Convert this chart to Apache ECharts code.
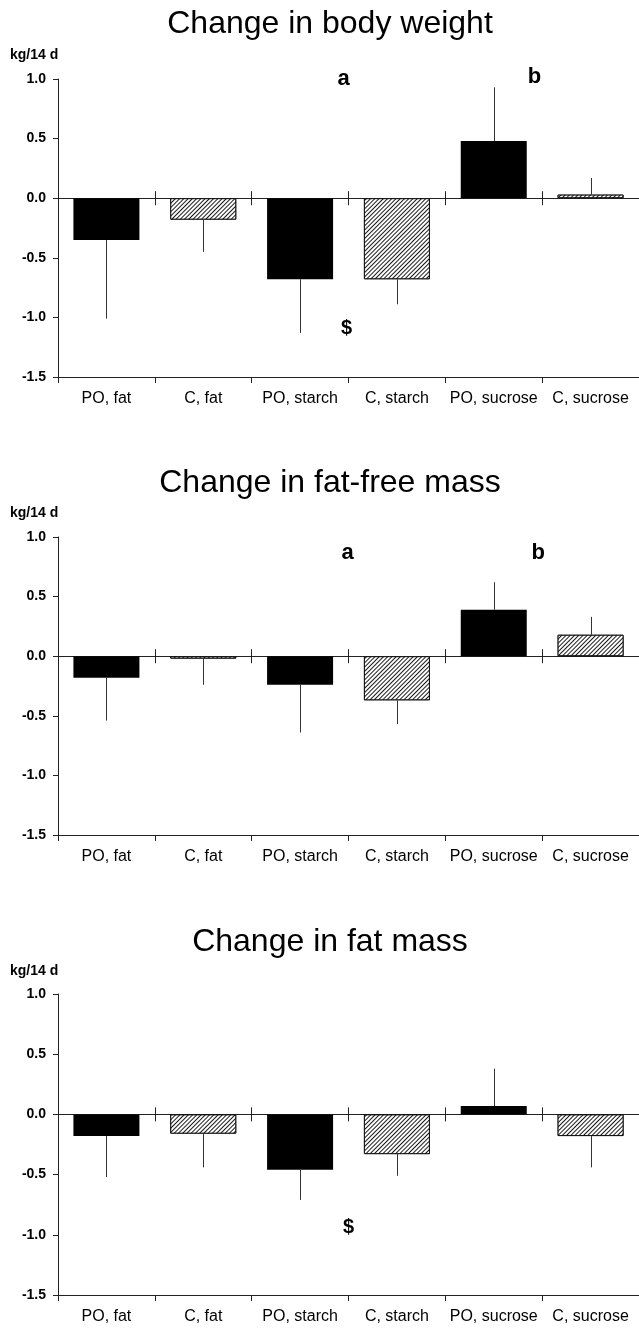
<!DOCTYPE html>
<html>
<head>
<meta charset="utf-8">
<script src="https://cdn.jsdelivr.net/npm/echarts@6/dist/echarts.min.js"></script>
<style>
html,body{margin:0;padding:0;background:#fff;}
#chart{width:639px;height:1329px;}
</style>
</head>
<body>
<div id="chart"></div>
<script>
// ---- data ----
const categories = ['PO, fat', 'C, fat', 'PO, starch', 'C, starch', 'PO, sucrose', 'C, sucrose'];
const isPO = [true, false, true, false, true, false];
const panelTitles = ['Change in body weight', 'Change in fat-free mass', 'Change in fat mass'];
const unitLabel = 'kg/14 d';

const bodyWeightMean = [-0.35, -0.18, -0.68, -0.68, 0.48, 0.03];
const bodyWeightSD   = [0.66, 0.27, 0.45, 0.21, 0.45, 0.14];

const fatFreeMean = [-0.18, -0.02, -0.24, -0.37, 0.39, 0.18];
const fatFreeSD   = [0.36, 0.22, 0.40, 0.20, 0.23, 0.15];

const fatMassMean = [-0.18, -0.16, -0.46, -0.33, 0.07, -0.18];
const fatMassSD   = [0.34, 0.28, 0.25, 0.18, 0.31, 0.26];

const yMin = -1.5, yMax = 1.0, yStep = 0.5;

// significance marks: [panel, text, position in category units, value]
const marks = [
  [0, 'a', 2.45, 1.0],
  [0, 'b', 4.42, 1.02],
  [0, '$', 2.48, -1.095],
  [1, 'a', 2.49, 0.866],
  [1, 'b', 4.46, 0.866],
  [2, '$', 2.50, -0.937]
];

// ---- layout ----
const panels = [
  {mean: bodyWeightMean, sd: bodyWeightSD, top: 79,  height: 298, titleTop: 8,   unitY: 57},
  {mean: fatFreeMean,    sd: fatFreeSD,    top: 537, height: 298, titleTop: 467, unitY: 515},
  {mean: fatMassMean,    sd: fatMassSD,    top: 994, height: 301, titleTop: 926, unitY: 973}
];
const gridLeft = 58, gridWidth = 582;
const FONT = '"Liberation Sans", Arial, Helvetica, sans-serif';
const axisColor = '#222';

const hatch = {
  symbol: 'rect', symbolSize: 1, symbolKeepAspect: false,
  color: '#1a1a1a', backgroundColor: '#ffffff',
  dashArrayX: [1, 0], dashArrayY: [1, 2], rotation: -Math.PI / 4
};

const option = {
  animation: false,
  backgroundColor: '#fff',
  title: [], grid: [], xAxis: [], yAxis: [], series: [], graphic: []
};

panels.forEach((p, i) => {
  option.title.push({
    text: panelTitles[i], left: 330, top: p.titleTop, textAlign: 'center', padding: 0,
    textStyle: {fontFamily: FONT, fontSize: 32, fontWeight: 'normal', color: '#000'}
  });
  option.grid.push({left: gridLeft, top: p.top, width: gridWidth, height: p.height});
  // bottom labelled axis
  option.xAxis.push({
    type: 'category', gridIndex: i, position: 'bottom', data: categories,
    axisLine: {onZero: false, lineStyle: {color: axisColor, width: 1}},
    axisTick: {show: true, alignWithLabel: false, length: 6, lineStyle: {color: axisColor}},
    axisLabel: {fontFamily: FONT, fontSize: 16, color: '#000', margin: 14, interval: 0},
    splitLine: {show: false}
  });
  // zero line with ticks going down
  option.xAxis.push({
    type: 'category', gridIndex: i, position: 'bottom', data: categories,
    axisLine: {onZero: true, onZeroAxisIndex: i, lineStyle: {color: axisColor, width: 1}},
    axisTick: {show: true, alignWithLabel: false, length: 7, lineStyle: {color: axisColor}},
    axisLabel: {show: false}, splitLine: {show: false}
  });
  // zero line with ticks going up
  option.xAxis.push({
    type: 'category', gridIndex: i, position: 'top', data: categories,
    axisLine: {onZero: true, onZeroAxisIndex: i, lineStyle: {color: axisColor, width: 1}},
    axisTick: {show: true, alignWithLabel: false, length: 7, lineStyle: {color: axisColor}},
    axisLabel: {show: false}, splitLine: {show: false}
  });
  option.yAxis.push({
    type: 'value', gridIndex: i, min: yMin, max: yMax, interval: yStep,
    axisLine: {show: true, onZero: false, lineStyle: {color: axisColor, width: 1}},
    axisTick: {show: true, length: 5, lineStyle: {color: axisColor}},
    axisLabel: {fontFamily: FONT, fontSize: 14, fontWeight: 'bold', color: '#000', margin: 12,
      formatter: v => v.toFixed(1)},
    splitLine: {show: false}
  });
  option.series.push({
    type: 'bar', xAxisIndex: 3 * i, yAxisIndex: i, barWidth: 66,
    data: p.mean.map((v, k) => ({
      value: v,
      itemStyle: isPO[k]
        ? {color: '#000', borderColor: '#000', borderWidth: 0}
        : {color: '#fff', borderColor: '#111', borderWidth: 1, decal: hatch}
    }))
  });
  option.series.push({
    type: 'custom', xAxisIndex: 3 * i, yAxisIndex: i, z: 5,
    data: p.mean.map((v, k) => [k, v, v + (v >= 0 ? 1 : -1) * p.sd[k]]),
    encode: {x: 0, y: [1, 2]},
    renderItem: (params, api) => {
      const a = api.coord([api.value(0), api.value(1)]);
      const b = api.coord([api.value(0), api.value(2)]);
      const x = Math.round(a[0]) + 0.5;
      return {type: 'line', shape: {x1: x, y1: a[1], x2: x, y2: b[1]},
        style: {stroke: '#333', lineWidth: 1}};
    }
  });
  option.graphic.push({
    type: 'text', left: 10, top: p.unitY - 9,
    style: {text: unitLabel, font: 'bold 14px ' + FONT, fill: '#000'}
  });
});

// annotation marks placed through axis scales
panels.forEach((p, i) => {
  const mine = marks.filter(m => m[0] === i);
  if (!mine.length) return;
  option.series.push({
    type: 'custom', xAxisIndex: 3 * i, yAxisIndex: i, z: 10, silent: true, clip: false,
    data: mine.map(m => [Math.floor(m[2]), m[3], m[2] - Math.floor(m[2])]),
    encode: {x: 0, y: 1},
    renderItem: (params, api) => {
      const c = api.coord([api.value(0), api.value(1)]);
      const band = api.size([1, 0])[0];
      const txt = mine[params.dataIndex][1];
      return {type: 'text', x: c[0] + api.value(2) * band, y: c[1],
        style: {text: txt, fill: '#000', align: 'center', verticalAlign: 'middle',
          font: 'bold ' + (txt === '$' ? 20 : 22) + 'px ' + FONT}};
    }
  });
});

const chart = echarts.init(document.getElementById('chart'), null, {renderer: 'canvas'});
chart.setOption(option);
</script>
</body>
</html>
